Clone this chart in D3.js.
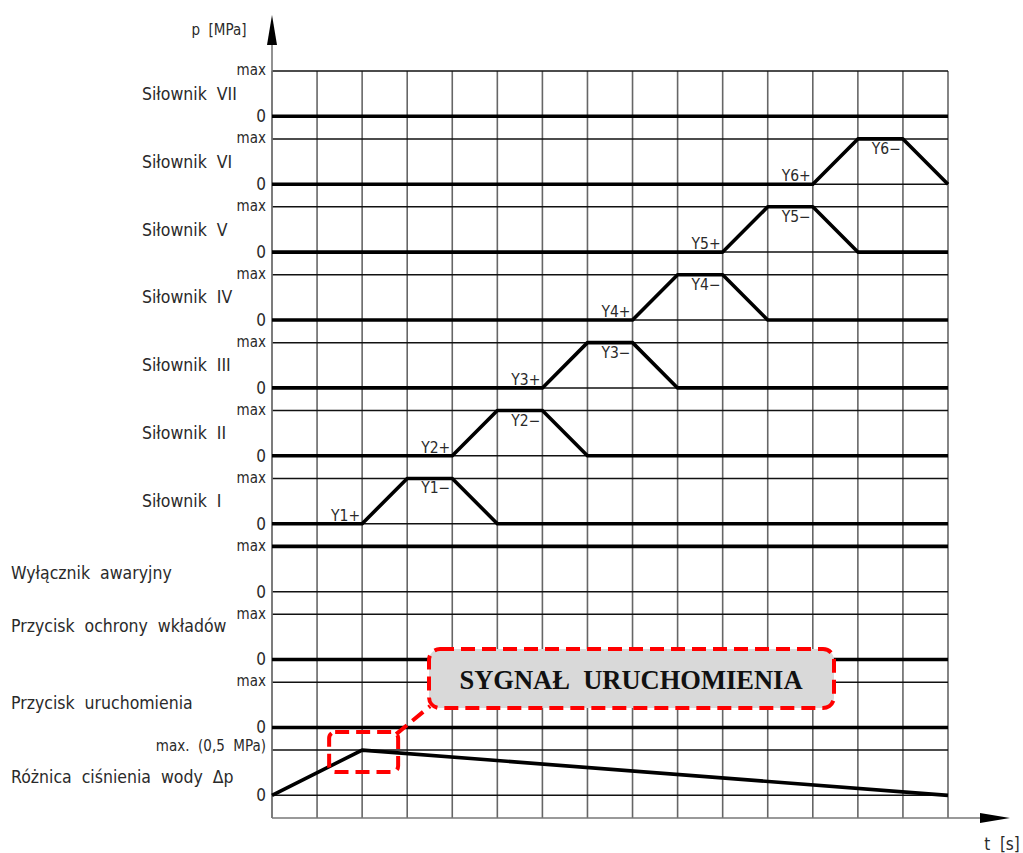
<!DOCTYPE html>
<html>
<head>
<meta charset="utf-8">
<script src="https://cdn.jsdelivr.net/npm/d3@7"></script>
<style>
  body { margin: 0; background: #fff; }
  svg text { font-family: "Liberation Sans Narrow", "DejaVu Sans Condensed", sans-serif; fill: #2a2a2a; }
</style>
</head>
<body>
<svg id="chart" width="1023" height="853"></svg>
<script>
// rows from top to bottom
const rowLabels = [
  "Siłownik VII", "Siłownik VI", "Siłownik V", "Siłownik IV", "Siłownik III",
  "Siłownik II", "Siłownik I", "Wyłącznik awaryjny", "Przycisk ochrony wkładów",
  "Przycisk uruchomienia", "Różnica ciśnienia wody Δp"
];
const maxLabels = ["max", "max", "max", "max", "max", "max", "max", "max", "max", "max", "max. (0,5 MPa)"];
const zeroLabel = "0";

// time steps (grid columns)
const timeTicks = [0, 1, 2, 3, 4, 5, 6, 7, 8, 9, 10, 11, 12, 13, 14, 15];

// signal level per row: [t, level] with level 0 = "0", 1 = "max"
const signals = [
  [[0, 0], [15, 0]],
  [[0, 0], [12, 0], [13, 1], [14, 1], [15, 0]],
  [[0, 0], [10, 0], [11, 1], [12, 1], [13, 0], [15, 0]],
  [[0, 0], [8, 0], [9, 1], [10, 1], [11, 0], [15, 0]],
  [[0, 0], [6, 0], [7, 1], [8, 1], [9, 0], [15, 0]],
  [[0, 0], [4, 0], [5, 1], [6, 1], [7, 0], [15, 0]],
  [[0, 0], [2, 0], [3, 1], [4, 1], [5, 0], [15, 0]],
  [[0, 1], [15, 1]],
  [[0, 0], [15, 0]],
  [[0, 0], [15, 0]],
  [[0, 0], [2, 1], [15, 0]]
];

// valve events: row, time, level, label
const eventRows = [6, 6, 5, 5, 4, 4, 3, 3, 2, 2, 1, 1];
const eventTimes = [2, 4, 4, 6, 6, 8, 8, 10, 10, 12, 12, 14];
const eventLevels = [0, 1, 0, 1, 0, 1, 0, 1, 0, 1, 0, 1];
const eventTexts = ["Y1+", "Y1−", "Y2+", "Y2−", "Y3+", "Y3−", "Y4+", "Y4−", "Y5+", "Y5−", "Y6+", "Y6−"];

const calloutText = "SYGNAŁ  URUCHOMIENIA";
const calloutRow = 10, calloutTime = 2;

const svg = d3.select("#chart");

const x = d3.scaleLinear().domain([0, 15]).range([272, 948]);
// each row = 3 units (2 units tall band + 1 unit gap)
const y = d3.scaleLinear().domain([0, 33]).range([71, 818]);
const yMax = (i) => y(i * 3);
const yZero = (i) => y(i * 3 + 2);
const yLevel = (i, v) => v ? yMax(i) : yZero(i);

// vertical grid
svg.append("g")
  .selectAll("line")
  .data(timeTicks)
  .join("line")
  .attr("x1", (d) => x(d)).attr("x2", (d) => x(d))
  .attr("y1", y(0)).attr("y2", y(33))
  .attr("stroke", (d) => d === 0 ? "#777" : "#666")
  .attr("stroke-width", 1.6);

// horizontal grid: max and zero line of every row
const hLines = [];
rowLabels.forEach((_, i) => { hLines.push(yMax(i)); hLines.push(yZero(i)); });
svg.append("g")
  .selectAll("line")
  .data(hLines)
  .join("line")
  .attr("x1", x(0)).attr("x2", x(15))
  .attr("y1", (d) => d).attr("y2", (d) => d)
  .attr("stroke", "#111")
  .attr("stroke-width", 1.5);

// axes with arrows
svg.append("line")
  .attr("x1", x(0)).attr("x2", x(0))
  .attr("y1", y(33)).attr("y2", 40)
  .attr("stroke", "#777").attr("stroke-width", 1.6);
svg.append("path")
  .attr("d", `M${x(0)},15 L${x(0) - 5},45 L${x(0) + 5},45 Z`)
  .attr("fill", "#000");
svg.append("line")
  .attr("x1", x(0)).attr("x2", 985)
  .attr("y1", y(33)).attr("y2", y(33))
  .attr("stroke", "#777").attr("stroke-width", 1.6);
svg.append("path")
  .attr("d", `M1010,${y(33)} L980,${y(33) - 5} L980,${y(33) + 5} Z`)
  .attr("fill", "#000");

svg.append("text").attr("x", 219).attr("y", 35)
  .attr("text-anchor", "middle").style("font-size", "15px")
  .style("white-space", "pre").text("p  [MPa]");
svg.append("text").attr("x", 1002).attr("y", 850)
  .attr("text-anchor", "middle").style("font-size", "17px")
  .style("white-space", "pre").text("t  [s]");

// signals
const line = d3.line().x((d) => x(d[0]));
svg.append("g")
  .selectAll("path")
  .data(signals)
  .join("path")
  .attr("d", (d, i) => line.y((p) => yLevel(i, p[1]))(d))
  .attr("fill", "none")
  .attr("stroke", "#000")
  .attr("stroke-width", 3.6)
  .attr("stroke-linejoin", "round");

// row labels
const labelShift = { 7: 4, 8: -11, 9: -2, 10: 4 };
svg.append("g")
  .selectAll("text")
  .data(rowLabels)
  .join("text")
  .attr("x", (d) => d.startsWith("Siłownik") ? 142 : 11)
  .attr("y", (d, i) => (yMax(i) + yZero(i)) / 2 + (labelShift[i] || 0))
  .attr("dy", "0.35em")
  .style("font-size", "17.5px")
  .style("white-space", "pre")
  .text((d) => d.replace(/ /g, "  "));

// tick labels
const tickG = svg.append("g").style("font-size", "15px").attr("text-anchor", "end");
tickG.selectAll(".tmax")
  .data(maxLabels)
  .join("text")
  .attr("class", "tmax")
  .attr("x", 266)
  .attr("y", (d, i) => yMax(i) - (i === 10 ? 4 : 1))
  .attr("dy", "0.35em")
  .style("white-space", "pre")
  .text((d) => d.replace(/ /g, "  "));
tickG.selectAll(".tzero")
  .data(rowLabels)
  .join("text")
  .attr("class", "tzero")
  .attr("x", 266)
  .attr("y", (d, i) => yZero(i))
  .attr("dy", "0.35em")
  .style("font-size", "17px")
  .text(zeroLabel);

// event labels
svg.append("g")
  .selectAll("text")
  .data(eventTexts)
  .join("text")
  .attr("x", (d, i) => x(eventTimes[i]) - 2)
  .attr("y", (d, i) => eventLevels[i]
    ? yLevel(eventRows[i], 1) + 15
    : yLevel(eventRows[i], 0) - 3)
  .attr("text-anchor", "end")
  .style("font-size", "15.5px")
  .text((d) => d);

// callout
const px = x(calloutTime), py = yMax(calloutRow);
const red = { stroke: "#ff0000", "stroke-width": 4, "stroke-dasharray": "14 7", fill: "none" };
const callG = svg.append("g");
const small = callG.append("rect")
  .attr("x", px - 33).attr("y", py - 18)
  .attr("width", 69).attr("height", 40).attr("rx", 6);
const conn = callG.append("line")
  .attr("x1", px + 34).attr("y1", py - 16)
  .attr("x2", px + 68).attr("y2", py - 44);
const big = callG.append("rect")
  .attr("x", 429).attr("y", 649)
  .attr("width", 405).attr("height", 59).attr("rx", 11)
  .attr("fill", "#d9d9d9");
[small, conn, big].forEach((s) => {
  Object.entries(red).forEach(([k, v]) => { if (!(k === "fill" && s === big)) s.attr(k, v); });
});
callG.append("text")
  .attr("x", 631).attr("y", 689)
  .attr("text-anchor", "middle")
  .style("font-family", "'Liberation Serif', 'Times New Roman', serif")
  .style("font-weight", "bold")
  .style("font-size", "26.5px")
  .style("fill", "#111")
  .style("white-space", "pre")
  .text(calloutText);
</script>
</body>
</html>
